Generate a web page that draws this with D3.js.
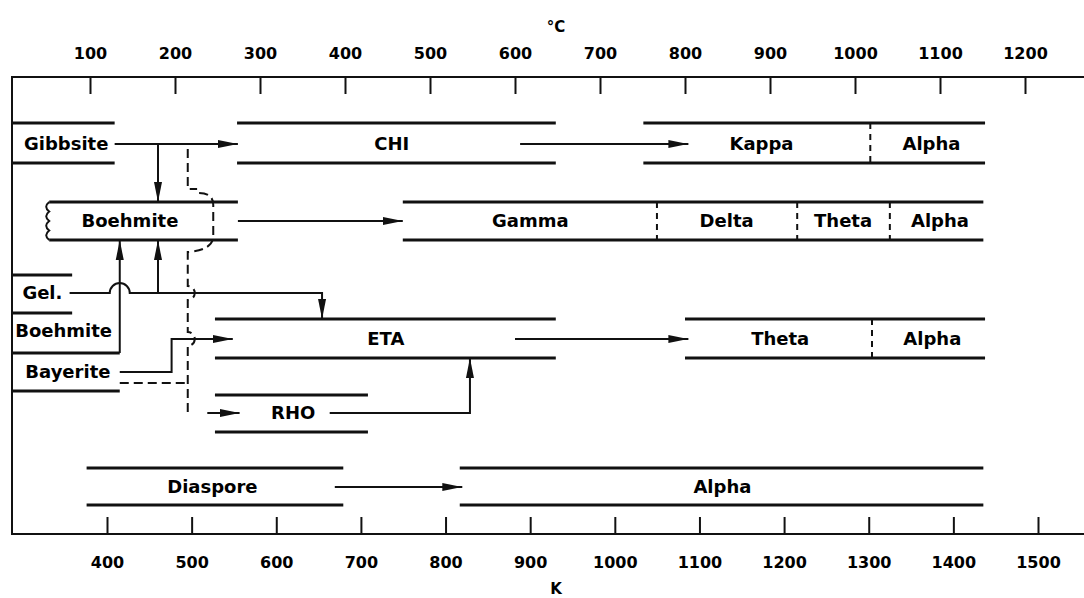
<!DOCTYPE html>
<html>
<head>
<meta charset="utf-8">
<script src="https://cdn.jsdelivr.net/npm/d3@7"></script>
<style>
  body { margin: 0; background: #fff; }
  text { font-family: "DejaVu Sans", sans-serif; font-weight: bold; fill: #000; }
  .phase { font-size: 18px; }
  .axis text { font-size: 16px; }
  .axis .tick line { stroke: #111; stroke-width: 2; }
</style>
</head>
<body>
<svg id="chart" width="1084" height="598"></svg>
<script>
"use strict";

// tick labels of both scales
var celsiusTicks = [100, 200, 300, 400, 500, 600, 700, 800, 900, 1000, 1100, 1200];
var kelvinTicks = [400, 500, 600, 700, 800, 900, 1000, 1100, 1200, 1300, 1400, 1500];

// phase bands: row, from °C (null = left frame), to °C
var bands = [
  ["gibbsite", null, 129],
  ["gibbsite", 273, 648],
  ["gibbsite", 751, 1153],
  ["boehmite", 52, 274],
  ["boehmite", 468, 1151],
  ["eta", 247, 648],
  ["eta", 800, 1153],
  ["rho", 247, 427],
  ["diaspore", 96, 398],
  ["diaspore", 535, 1151]
];

// single rules of the left column: row, edge, to °C
var starters = [
  ["gel", "top", 79],
  ["gel", "bottom", 79],
  ["bayerite", "top", 135],
  ["bayerite", "bottom", 135]
];

// dashed phase boundaries inside a band: row, °C
var cuts = [
  ["gibbsite", 1018],
  ["boehmite", 767],
  ["boehmite", 932],
  ["boehmite", 1041],
  ["eta", 1020]
];

// phase names: text, row, °C of the centre
var names = [
  ["Gibbsite", "gibbsite", 72], ["CHI", "gibbsite", 455], ["Kappa", "gibbsite", 890], ["Alpha", "gibbsite", 1090],
  ["Boehmite", "boehmite", 147], ["Gamma", "boehmite", 618], ["Delta", "boehmite", 849], ["Theta", "boehmite", 986], ["Alpha", "boehmite", 1100],
  ["Gel.", "gel", 44], ["Boehmite", "boehmite2", 69], ["Bayerite", "bayerite", 74],
  ["ETA", "eta", 448], ["Theta", "eta", 912], ["Alpha", "eta", 1091],
  ["RHO", "rho", 339],
  ["Diaspore", "diaspore", 244], ["Alpha", "diaspore", 844]
];

// transformation arrows: points [°C, row, edge]
var arrows = [
  [[129, "gibbsite", "mid"], [274, "gibbsite", "mid"]],
  [[606, "gibbsite", "mid"], [804, "gibbsite", "mid"]],
  [[180, "gibbsite", "mid"], [180, "boehmite", "top"]],
  [[274, "boehmite", "mid"], [468, "boehmite", "mid"]],
  [[135, "bayerite", "top"], [135, "boehmite", "bottom"]],
  [[180, "gel", "mid"], [180, "boehmite", "bottom"]],
  [[76, "gel", "mid"], [373, "gel", "mid"], [373, "eta", "top"]],
  [[135, "bayerite", "mid"], [196, "bayerite", "mid"], [196, "eta", "mid"], [268, "eta", "mid"]],
  [[600, "eta", "mid"], [804, "eta", "mid"]],
  [[382, "rho", "mid"], [547, "rho", "mid"], [547, "eta", "bottom"]],
  [[388, "diaspore", "mid"], [538, "diaspore", "mid"]],
  [[238, "rho", "mid"], [276, "rho", "mid"]]
];

// line hops: a horizontal line in row jumps over a vertical one at °C
var hops = [["gel", 135]];

// ---- layout ----
var svg = d3.select("#chart");
var frame = {left: 12, right: 1084, top: 77, bottom: 534};

var rows = {
  gibbsite:  {top: 123, mid: 144, bottom: 163},
  boehmite:  {top: 202, mid: 221, bottom: 240},
  gel:       {top: 275, mid: 293, bottom: 313},
  boehmite2: {top: 313, mid: 331, bottom: 353},
  eta:       {top: 319, mid: 339, bottom: 358},
  bayerite:  {top: 353, mid: 372, bottom: 391},
  rho:       {top: 395, mid: 413, bottom: 432},
  diaspore:  {top: 468, mid: 487, bottom: 505}
};

var x = d3.scaleLinear().domain([100, 1200]).range([90, 1025]);
// the printed kelvin scale runs a little tighter than the celsius one
var xK = d3.scaleLinear().domain([400, 1500]).range([107, 1038]);

function px(c) { return c === null ? frame.left : x(c); }

svg.append("defs").append("marker")
  .attr("id", "head")
  .attr("viewBox", "-20 -5 20 10")
  .attr("refX", 0).attr("refY", 0)
  .attr("markerWidth", 20).attr("markerHeight", 10)
  .attr("markerUnits", "userSpaceOnUse")
  .attr("orient", "auto")
  .append("path")
  .attr("d", "M-20,-4L0,0L-20,4Z")
  .attr("fill", "#111");

// axes
var axisC = svg.append("g")
  .attr("class", "axis")
  .attr("transform", "translate(0," + frame.top + ")")
  .call(d3.axisTop(x).tickValues(celsiusTicks).tickSize(-17).tickPadding(18).tickFormat(d3.format("d")));
axisC.select(".domain").remove();

var axisK = svg.append("g")
  .attr("class", "axis")
  .attr("transform", "translate(0," + frame.bottom + ")")
  .call(d3.axisBottom(xK).tickValues(kelvinTicks).tickSize(-17).tickPadding(23).tickFormat(d3.format("d")));
axisK.select(".domain").remove();

svg.append("text").attr("x", 556).attr("y", 32).attr("text-anchor", "middle")
  .style("font-size", "15px").text("°C");
svg.append("text").attr("x", 556).attr("y", 594).attr("text-anchor", "middle")
  .style("font-size", "15px").text("K");

// frame
svg.append("path")
  .attr("d", "M" + frame.right + "," + frame.top + "H" + frame.left + "V" + frame.bottom + "H" + frame.right)
  .attr("fill", "none").attr("stroke", "#111").attr("stroke-width", 2);

// bands
var bandG = svg.append("g").attr("stroke", "#111").attr("stroke-width", 3);
bands.forEach(function(b) {
  var r = rows[b[0]];
  [r.top, r.bottom].forEach(function(y) {
    bandG.append("line")
      .attr("x1", px(b[1])).attr("x2", x(b[2]))
      .attr("y1", y).attr("y2", y);
  });
});
starters.forEach(function(s) {
  var y = rows[s[0]][s[1]];
  bandG.append("line")
    .attr("x1", frame.left).attr("x2", x(s[2]))
    .attr("y1", y).attr("y2", y);
});

// wavy left edge of the boehmite band
var wave = d3.path();
var rb = rows.boehmite, n = 4, step = (rb.bottom - rb.top) / n, wx = x(52);
wave.moveTo(wx, rb.top);
for (var i = 0; i < n; i++) {
  wave.quadraticCurveTo(wx - 6, rb.top + step * (i + 0.5), wx, rb.top + step * (i + 1));
}
svg.append("path").attr("d", wave.toString())
  .attr("fill", "none").attr("stroke", "#111").attr("stroke-width", 2);

// dashed boundaries
svg.append("g").selectAll("line")
  .data(cuts)
  .enter()
  .append("line")
  .attr("x1", function(d) { return x(d[1]); })
  .attr("x2", function(d) { return x(d[1]); })
  .attr("y1", function(d) { return rows[d[0]].top; })
  .attr("y2", function(d) { return rows[d[0]].bottom; })
  .attr("stroke", "#111").attr("stroke-width", 2)
  .attr("stroke-dasharray", "6,5");

// names
svg.append("g").selectAll("text")
  .data(names)
  .enter()
  .append("text")
  .attr("class", "phase")
  .attr("x", function(d) { return x(d[2]); })
  .attr("y", function(d) { return rows[d[1]].mid; })
  .attr("dy", "0.36em")
  .attr("text-anchor", "middle")
  .text(function(d) { return d[0]; });

// arrows
function arrowPath(pts) {
  var p = d3.path();
  pts.forEach(function(q, i) {
    var xx = x(q[0]), yy = rows[q[1]][q[2]];
    if (i === 0) { p.moveTo(xx, yy); return; }
    var prev = pts[i - 1];
    if (prev[1] === q[1] && prev[2] === q[2]) {
      hops.forEach(function(h) {
        if (h[0] === q[1] && h[1] > Math.min(prev[0], q[0]) && h[1] < Math.max(prev[0], q[0])) {
          var hx = x(h[1]), rr = 10;
          p.lineTo(hx - rr, yy);
          p.arc(hx, yy, rr, Math.PI, 0, false);
        }
      });
    }
    p.lineTo(xx, yy);
  });
  return p.toString();
}

svg.append("g").selectAll("path")
  .data(arrows)
  .enter()
  .append("path")
  .attr("d", arrowPath)
  .attr("fill", "none")
  .attr("stroke", "#111")
  .attr("stroke-width", 2)
  .attr("marker-end", "url(#head)");

// dashed route of gibbsite / bayerite through the boehmite band down to rho
var xd = x(215), xw = x(245), xl = x(226);
var dash = d3.path();
dash.moveTo(xd, rows.gibbsite.mid + 5);
dash.lineTo(xd, rows.boehmite.top - 13);
dash.lineTo(xl, rows.boehmite.top - 13);
dash.moveTo(xl + 2, rows.boehmite.top - 9);
dash.quadraticCurveTo(xw, rows.boehmite.top - 9, xw, rows.boehmite.top + 3);
dash.lineTo(xw, rows.boehmite.bottom - 4);
dash.quadraticCurveTo(xw, rows.boehmite.bottom + 10, xd, rows.boehmite.bottom + 12);
dash.lineTo(xd, rows.gel.mid - 7);
dash.arc(xd, rows.gel.mid, 7, -Math.PI / 2, Math.PI / 2, false);
dash.lineTo(xd, rows.eta.mid - 7);
dash.arc(xd, rows.eta.mid, 7, -Math.PI / 2, Math.PI / 2, false);
dash.lineTo(xd, rows.rho.mid);
dash.lineTo(xl - 8, rows.rho.mid);
dash.moveTo(x(135), rows.bayerite.mid + 11);
dash.lineTo(xd, rows.bayerite.mid + 11);
svg.append("path").attr("d", dash.toString())
  .attr("fill", "none").attr("stroke", "#111").attr("stroke-width", 2)
  .attr("stroke-dasharray", "9,5");
</script>
</body>
</html>
